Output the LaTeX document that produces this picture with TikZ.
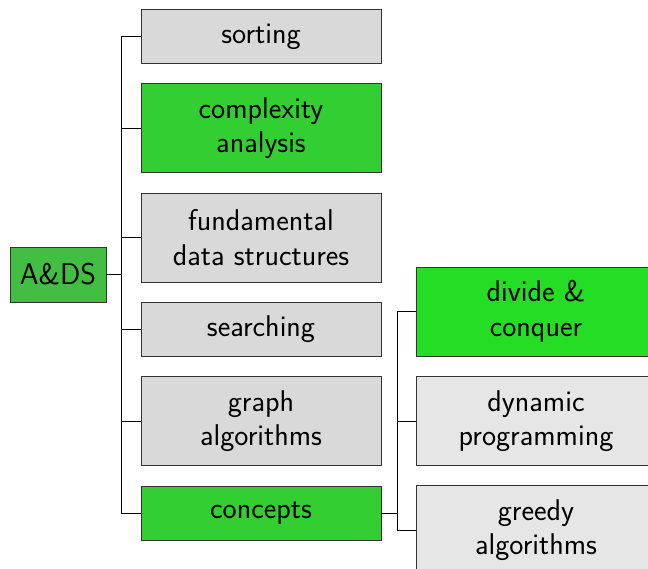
\documentclass[tikz,border=0pt]{standalone}
\usepackage{fontspec}
\begin{document}
\begin{tikzpicture}[x=1pt,y=-1pt,
  box/.style={draw=black!80, line width=0.8pt, minimum width=240pt, align=center,
    inner sep=0pt, font=\fontsize{30}{34.5}\selectfont\sffamily},
  one/.style={box, minimum height=54pt},
  two/.style={box, minimum height=89pt},
  grayL/.style={fill=cgrayL},
  grayR/.style={fill=cgrayR},
  conn/.style={draw=black, line width=0.8pt}]
\definecolor{cgrayL}{RGB}{217,217,217}
\definecolor{cgrayR}{RGB}{230,230,230}
\definecolor{groot}{RGB}{66,190,66}
\definecolor{gmid}{RGB}{50,206,50}
\definecolor{gleaf}{RGB}{36,221,36}
\useasboundingbox (0,0) rectangle (648,568);
\node[box, minimum width=96pt, minimum height=55pt, fill=groot] (ads) at (58,274.5) {A\&DS};
\node[one, grayL] (sorting) at (261,36.5) {sorting};
\node[two, fill=gmid] (complexity) at (261,128) {complexity\\analysis};
\node[two, grayL] (fundamental) at (261,237.5) {fundamental\\data structures};
\node[one, grayL] (searching) at (261,329) {searching};
\node[two, grayL] (graph) at (261,421) {graph\\algorithms};
\node[one, fill=gmid] (concepts) at (261,513) {concepts};
\node[two, fill=gleaf] (divide) at (536,311.5) {divide \&\\conquer};
\node[two, grayR] (dynamic) at (536,421) {dynamic\\programming};
\node[two, grayR] (greedy) at (536,530) {greedy\\algorithms};
\foreach \c in {sorting,complexity,fundamental,searching,graph,concepts}
  \draw[conn] (ads.east) -- ++(15,0) |- (\c.west);
\foreach \c in {divide,dynamic,greedy}
  \draw[conn] (concepts.east) -- ++(16,0) |- (\c.west);
\end{tikzpicture}
\end{document}
